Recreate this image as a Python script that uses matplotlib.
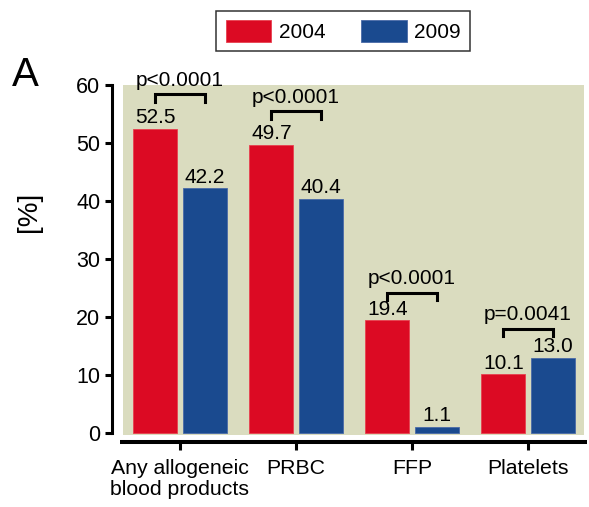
import matplotlib
matplotlib.use("Agg")
import matplotlib.pyplot as plt
import numpy as np

plt.rcParams['font.family'] = ['Liberation Sans', 'DejaVu Sans']

categories = ["Any allogeneic\nblood products", "PRBC", "FFP", "Platelets"]
series_names = ["2004", "2009"]
values_2004 = [52.5, 49.7, 19.4, 10.1]
values_2009 = [42.2, 40.4, 1.1, 13.0]
p_labels = ["p<0.0001", "p<0.0001", "p<0.0001", "p=0.0041"]
bracket_levels = [58.4, 55.5, 24.2, 18.0]
yticks = [0, 10, 20, 30, 40, 50, 60]

RED = "#DC0A23"
BLUE = "#1A4A8F"
BG = "#DADCBF"

W, H = 589, 507
fig = plt.figure(figsize=(W / 100, H / 100), dpi=100)
ax = fig.add_axes([123 / W, 1 - 435 / H, (584 - 123) / W, (435 - 85) / H])
ax.set_facecolor(BG)

x = np.arange(len(categories))
bw = 0.38
off = 0.212
b1 = ax.bar(x - off, values_2004, bw, color=RED, edgecolor="#E8404F", linewidth=0.6, label=series_names[0], zorder=2)
b2 = ax.bar(x + off, values_2009, bw, color=BLUE, edgecolor="#4A6AA8", linewidth=0.6, label=series_names[1], zorder=2)

ax.set_xlim(-0.491, 3.483)
ax.set_ylim(-0.34, 59.85)

# spines
for s in ["top", "right"]:
    ax.spines[s].set_visible(False)
ax.spines['left'].set_position(('outward', 7.9))
ax.spines['left'].set_bounds(0, 60)
ax.spines['left'].set_linewidth(2.2)
ax.spines['bottom'].set_position(('outward', 5.0))
ax.spines['bottom'].set_bounds(-0.517, 3.509)
ax.spines['bottom'].set_linewidth(2.9)
ax.spines['bottom'].set_capstyle('butt')

ax.set_yticks(yticks)
ax.set_yticklabels([str(t) for t in yticks])
ax.tick_params(axis='y', length=5, width=2.2, pad=3.5, labelsize=15.5, direction='out')
ax.set_xticks(x)
ax.set_xticklabels(categories)
ax.tick_params(axis='x', length=6, width=2.2, pad=6, labelsize=15.3, direction='out')
for lbl in ax.get_xticklabels():
    lbl.set_linespacing(1.15)

ax.set_ylabel("[%]", fontsize=20, va='center')
ax.yaxis.set_label_coords((28.5 - 123) / 461, (435 - 211.5) / 350)

# value labels
for rects, vals in ((b1, values_2004), (b2, values_2009)):
    for r, v in zip(rects, vals):
        ax.annotate(f"{v:.1f}", (r.get_x() + r.get_width() / 2, v),
                    xytext=(0, 3.8), textcoords='offset points',
                    ha='center', va='baseline', fontsize=15, zorder=3)

# significance brackets
leg = 1.35
for i, (lvl, p) in enumerate(zip(bracket_levels, p_labels)):
    xl, xr = x[i] - off, x[i] + off
    ax.plot([xl, xl, xr, xr], [lvl - leg, lvl, lvl, lvl - leg], color='black',
            lw=2.2, solid_joinstyle='miter', clip_on=False, zorder=3)
    ax.annotate(p, (x[i], lvl), xytext=(0, 6), textcoords='offset points',
                ha='center', va='baseline', fontsize=15, zorder=3,
                annotation_clip=False)

# panel letter
fig.text(12 / W, 1 - 86 / H, "A", fontsize=29, ha='left', va='baseline')

# legend
legd = fig.legend(handles=[b1, b2], labels=series_names, loc='center',
                  bbox_to_anchor=((217 + 469) / 2 / W, 1 - 31 / H),
                  ncol=2, fontsize=15, frameon=True, fancybox=False,
                  edgecolor='black', handlelength=2.2, handleheight=1.2,
                  handletextpad=0.35, columnspacing=1.7, borderpad=0.45,
                  borderaxespad=0)
legd.get_frame().set_linewidth(1.1)

fig.savefig("out.png", dpi=100)
